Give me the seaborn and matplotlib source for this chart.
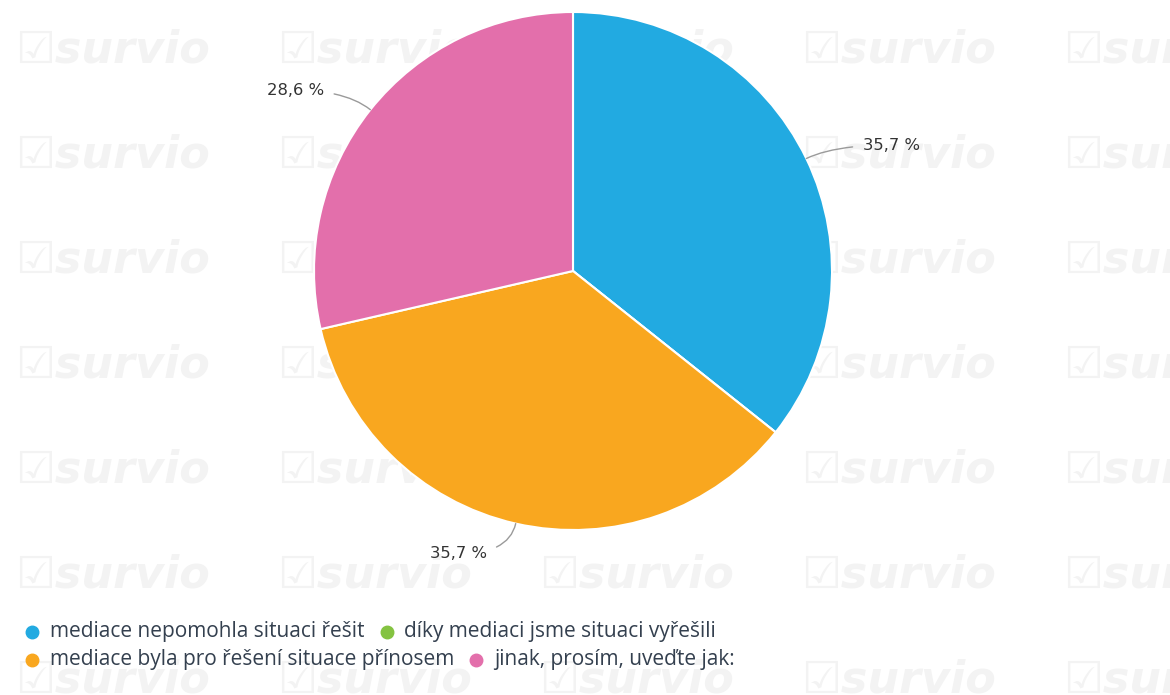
import numpy as np
import matplotlib
matplotlib.use("Agg")
import matplotlib.pyplot as plt
import seaborn as sns

# Survey answers and their shares (%)
categories = [
    "mediace nepomohla situaci řešit",
    "díky mediaci jsme situaci vyřešili",
    "mediace byla pro řešení situace přínosem",
    "jinak, prosím, uveďte jak:",
]
shares = [35.7, 0.0, 35.7, 28.6]
palette_hex = ["#22aae1", "#84c341", "#f9a71f", "#e36fab"]

sns.set_theme(style="white")
plt.rcParams["font.family"] = ["DejaVu Sans"]
colors = sns.color_palette(palette_hex)

W, H = 1170, 695
fig = plt.figure(figsize=(W / 100, H / 100), dpi=100)
fig.patch.set_facecolor("white")

# faint repeating brand watermark in the background
for row_y in [50, 155, 260, 365, 470, 575, 680]:
    for col_x in [15, 277, 539, 801, 1063]:
        fig.text(col_x / W, 1 - row_y / H, "☑survio", fontsize=32,
                 fontweight="bold", fontstyle="italic", color="#f3f3f3",
                 ha="left", va="center", zorder=-5)

# pie centred at (573, 271) px with radius 259 px
cx, cy, r = 573, 271, 259
ax = fig.add_axes([(cx - r) / W, (H - cy - r) / H, 2 * r / W, 2 * r / H])
ax.set_facecolor("none")
wedges, _ = ax.pie(shares, colors=colors, startangle=90, counterclock=False,
                   radius=1.0, wedgeprops=dict(edgecolor="white", linewidth=1.5))
ax.set_xlim(-1, 1)
ax.set_ylim(-1, 1)
ax.set_aspect("equal")
ax.axis("off")

# percentage labels with curved connectors
for w, v in zip(wedges, shares):
    if v <= 0:
        continue
    mid = np.deg2rad((w.theta1 + w.theta2) / 2)
    ex, ey = np.cos(mid), np.sin(mid)
    ax_, ay_ = 1.12 * ex, 1.12 * ey
    side = 1 if ex >= 0 else -1
    tx = ax_ + side * (0.11 if side > 0 else 0.085)
    label = f"{v:.1f}".replace(".", ",") + " %"
    ax.annotate(label, xy=(ex, ey), xytext=(tx, ay_),
                ha="left" if side > 0 else "right", va="center",
                fontsize=11.8, color="#333333", annotation_clip=False,
                arrowprops=dict(arrowstyle="-", color="#9a9a9a", lw=1.0,
                                shrinkA=5, shrinkB=0,
                                connectionstyle=f"angle3,angleA=0,angleB={np.rad2deg(mid):.1f}"))

# legend laid out as flowing items in two rows
fig.canvas.draw()
renderer = fig.canvas.get_renderer()
rows = [[0, 1], [2, 3]]
row_ys = [632, 660]
for items, ry in zip(rows, row_ys):
    x = 32
    for i in items:
        fig.lines.append(plt.Line2D([x / W], [1 - ry / H], marker="o", markersize=9,
                                    color=colors[i], linestyle="none",
                                    transform=fig.transFigure, figure=fig))
        t = fig.text((x + 18) / W, 1 - ry / H, categories[i], fontsize=15,
                     family=["Open Sans", "DejaVu Sans"], color="#34404f",
                     ha="left", va="center")
        bb = t.get_window_extent(renderer=renderer)
        x = bb.x1 + 22

fig.savefig("out.png", dpi=100, facecolor="white")
